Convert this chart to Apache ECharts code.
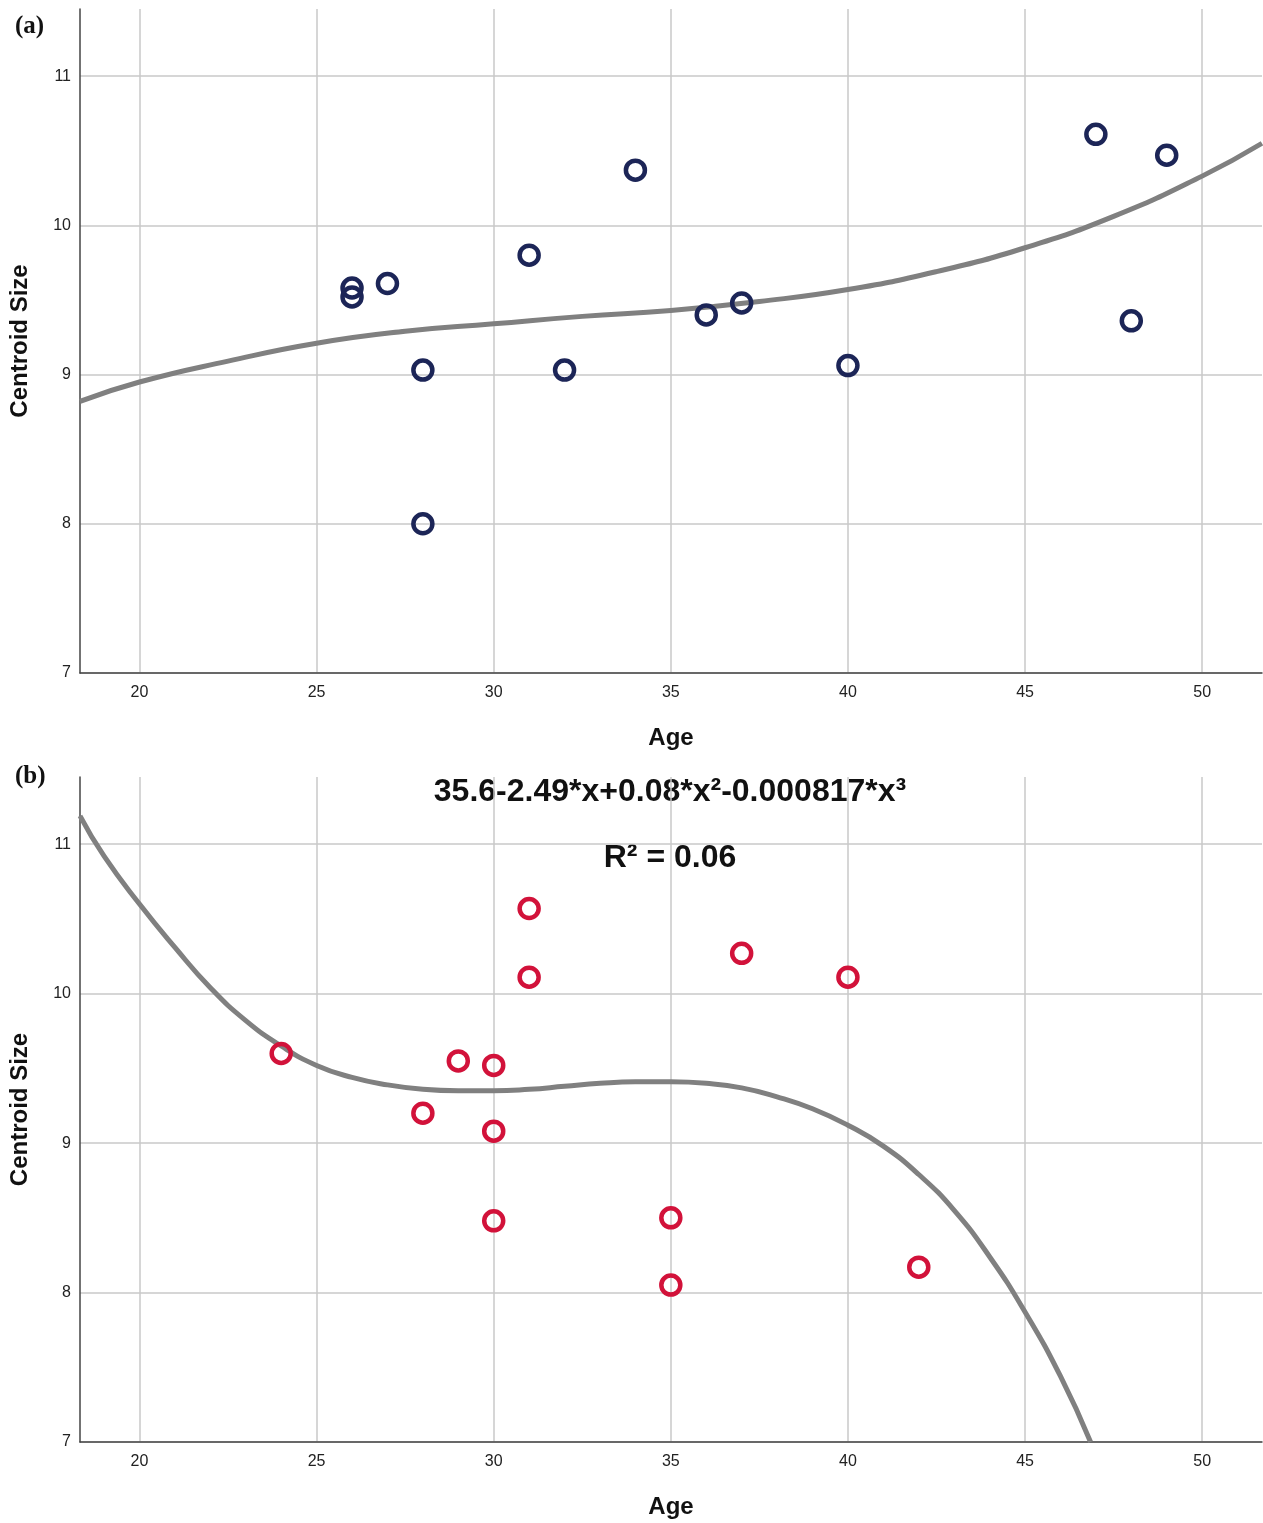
<!DOCTYPE html>
<html>
<head>
<meta charset="utf-8">
<script src="https://cdn.jsdelivr.net/npm/echarts@6/dist/echarts.min.js"></script>
<style>
  html, body { margin: 0; padding: 0; background: #fff; }
  #main { width: 1263px; height: 1523px; }
</style>
</head>
<body>
<div id="main"></div>
<script>
  //刻度
  var xTicks = [20, 25, 30, 35, 40, 45, 50]
  var yTicks = [7, 8, 9, 10, 11]

  //(a) 散点
  var ageA = [26, 26, 27, 28, 28, 31, 32, 34, 36, 37, 40, 47, 48, 49]
  var sizeA = [9.52, 9.58, 9.61, 9.03, 8.00, 9.80, 9.03, 10.37, 9.40, 9.48, 9.06, 10.61, 9.36, 10.47]
  //(a) 拟合曲线
  var fitAgeA = [18.32, 20, 22.5, 25, 27.5, 30, 32.5, 35, 37.5, 40, 42.5, 45, 47.5, 50, 51.69]
  var fitSizeA = [8.82, 8.95, 9.09, 9.21, 9.29, 9.34, 9.39, 9.43, 9.49, 9.57, 9.69, 9.85, 10.06, 10.33, 10.55]

  //(b) 散点
  var ageB = [24, 28, 29, 30, 30, 30, 31, 31, 35, 35, 37, 40, 42]
  var sizeB = [9.60, 9.20, 9.55, 9.52, 9.08, 8.48, 10.57, 10.11, 8.50, 8.05, 10.27, 10.11, 8.17]
  //(b) 拟合曲线
  var fitAgeB = [18.32, 19, 20, 21, 22, 23, 24, 25, 26, 27, 28, 29, 30, 31, 32, 33, 34, 35, 36, 37, 38, 39, 40, 41, 42, 43, 44, 45, 46, 46.85]
  var fitSizeB = [11.19, 10.92, 10.60, 10.31, 10.04, 9.82, 9.65, 9.52, 9.44, 9.39, 9.36, 9.35, 9.35, 9.36, 9.38, 9.40, 9.41, 9.41, 9.40, 9.37, 9.31, 9.23, 9.12, 8.98, 8.79, 8.55, 8.24, 7.87, 7.44, 7.00]

  var eqText = '35.6-2.49*x+0.08*x²-0.000817*x³'
  var r2Text = 'R² = 0.06'

  var font = '"Liberation Sans", Arial, sans-serif'

  function zip(xs, ys){
    return xs.map(function(x, i){ return [x, ys[i]] })
  }

  function makeX(idx){
    return {
      type: 'value', gridIndex: idx, min: 18.32, max: 51.69,
      name: 'Age', nameLocation: 'middle', nameGap: 53,
      nameTextStyle: { fontFamily: font, fontWeight: 'bold', fontSize: 24, color: '#111' },
      axisLine: { show: true, onZero: false, lineStyle: { color: '#444', width: 1.5 } },
      axisTick: { show: false, customValues: xTicks },
      axisLabel: { customValues: xTicks, margin: 12, fontFamily: font, fontSize: 16, color: '#222' },
      splitLine: { show: true, lineStyle: { color: '#c8c8c8', width: 1.5 } }
    }
  }

  function makeY(idx){
    return {
      type: 'value', gridIndex: idx, min: 7, max: 11.45,
      name: 'Centroid Size', nameLocation: 'middle', nameGap: 48,
      nameTextStyle: { fontFamily: font, fontWeight: 'bold', fontSize: 24, color: '#111' },
      axisLine: { show: true, onZero: false, lineStyle: { color: '#444', width: 1.5 } },
      axisTick: { show: false, customValues: yTicks },
      axisLabel: { customValues: yTicks, margin: 9, fontFamily: font, fontSize: 16, color: '#222' },
      splitLine: { show: true, lineStyle: { color: '#c8c8c8', width: 1.5 } }
    }
  }

  function dots(idx, xs, ys, color){
    return {
      type: 'scatter', xAxisIndex: idx, yAxisIndex: idx, z: 5,
      symbol: 'circle', symbolSize: 19,
      itemStyle: { color: 'rgba(255,255,255,0)', borderColor: color, borderWidth: 4.5, opacity: 1 },
      data: zip(xs, ys)
    }
  }

  function curve(idx, xs, ys){
    return {
      type: 'line', xAxisIndex: idx, yAxisIndex: idx, z: 3,
      smooth: 0.5, showSymbol: false, clip: true,
      lineStyle: { color: '#808080', width: 5 },
      data: zip(xs, ys)
    }
  }

  var chart = echarts.init(document.getElementById('main'))
  var option = {
    backgroundColor: '#fff',
    animation: false,
    grid: [
      { left: 80, right: 1, top: 9, height: 664 },
      { left: 80, right: 1, top: 777, height: 665 }
    ],
    xAxis: [makeX(0), makeX(1)],
    yAxis: [makeY(0), makeY(1)],
    graphic: [
      { type: 'text', left: 15, top: 14, style: { text: '(a)', font: 'bold 25px "Liberation Serif", "Times New Roman", serif', fill: '#111' } },
      { type: 'text', left: 15, top: 764, style: { text: '(b)', font: 'bold 25px "Liberation Serif", "Times New Roman", serif', fill: '#111' } },
      { type: 'text', x: 670, y: 792, style: { text: eqText, font: 'bold 32px "Liberation Sans", Arial, sans-serif', fill: '#111', align: 'center', verticalAlign: 'middle' } },
      { type: 'text', x: 670, y: 858, style: { text: r2Text, font: 'bold 32px "Liberation Sans", Arial, sans-serif', fill: '#111', align: 'center', verticalAlign: 'middle' } }
    ],
    series: [
      curve(0, fitAgeA, fitSizeA),
      dots(0, ageA, sizeA, '#1c2557'),
      curve(1, fitAgeB, fitSizeB),
      dots(1, ageB, sizeB, '#d2123a')
    ]
  }
  chart.setOption(option)
</script>
</body>
</html>
